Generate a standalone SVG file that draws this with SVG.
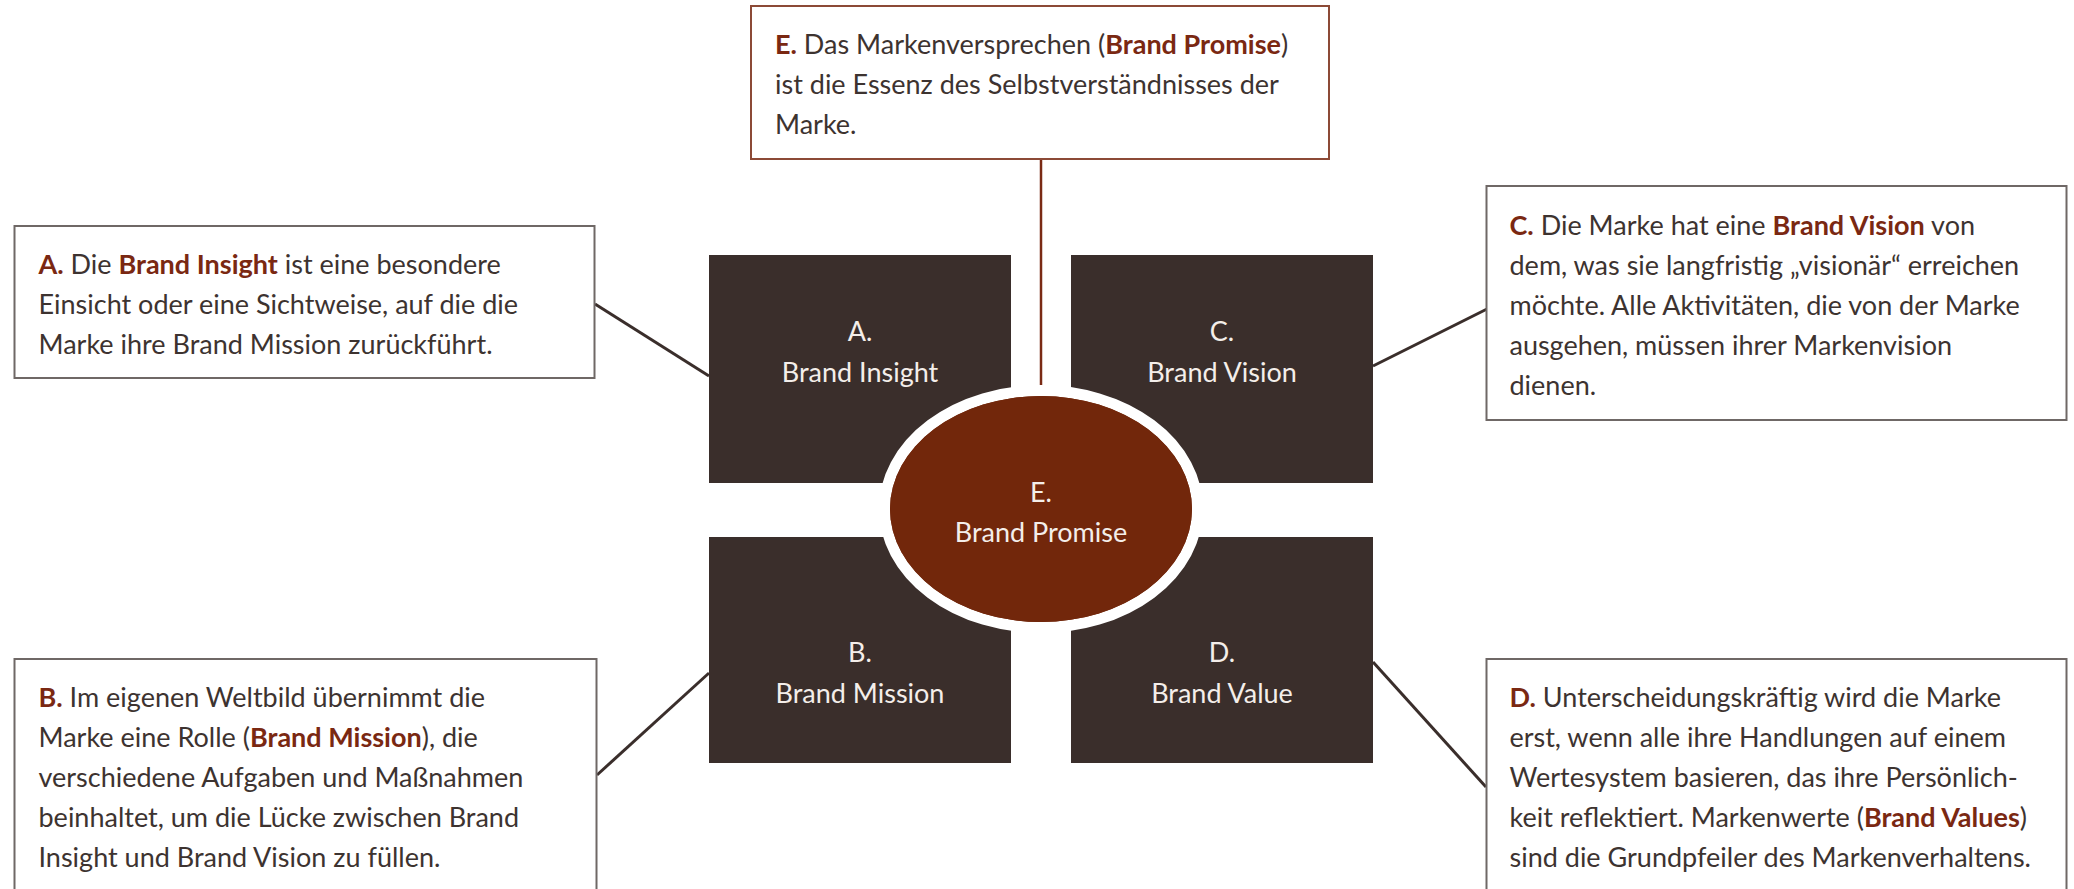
<svg xmlns="http://www.w3.org/2000/svg" width="2074" height="889" viewBox="0 0 2074 889">
  <style>
    .box { fill: #ffffff; stroke: #6f6866; stroke-width: 2; }
    .boxE { fill: #ffffff; stroke: #8c4a36; stroke-width: 2; }
    .sq { fill: #3a2e2b; }
    .desc { font-family: Lato, "Open Sans", sans-serif; font-size: 27px; fill: #3d3330; }
    .b { font-weight: bold; fill: #7a2812; }
    .lbl { font-family: Lato, "Open Sans", sans-serif; font-size: 27px; fill: #f4eeea; text-anchor: middle; }
    .con { stroke: #3a2e2b; stroke-width: 3; fill: none; }
    .conE { stroke: #7a2a14; stroke-width: 2.5; fill: none; }
  </style>
  <rect width="2074" height="889" fill="#ffffff"/>

  <g id="connectors">
    <line class="conE" x1="1041" y1="159" x2="1041" y2="400"/>
    <line class="con" x1="595" y1="304" x2="709" y2="376"/>
    <line class="con" x1="1373" y1="366" x2="1487" y2="309"/>
    <line class="con" x1="709" y1="673" x2="597" y2="775"/>
    <line class="con" x1="1373" y1="662" x2="1486" y2="787"/>
  </g>

  <g id="square-A">
    <rect class="sq" x="709" y="255" width="302" height="228"/>
    <text class="lbl" x="860" y="341">A.</text>
    <text class="lbl" x="860" y="382">Brand Insight</text>
  </g>
  <g id="square-C">
    <rect class="sq" x="1071" y="255" width="302" height="228"/>
    <text class="lbl" x="1222" y="341">C.</text>
    <text class="lbl" x="1222" y="382">Brand Vision</text>
  </g>
  <g id="square-B">
    <rect class="sq" x="709" y="537" width="302" height="226"/>
    <text class="lbl" x="860" y="662">B.</text>
    <text class="lbl" x="860" y="703">Brand Mission</text>
  </g>
  <g id="square-D">
    <rect class="sq" x="1071" y="537" width="302" height="226"/>
    <text class="lbl" x="1222" y="662">D.</text>
    <text class="lbl" x="1222" y="703">Brand Value</text>
  </g>

  <g id="node-E">
    <ellipse cx="1041" cy="509" rx="151" ry="113" fill="#72270b" stroke="#ffffff" stroke-width="22" paint-order="stroke"/>
    <ellipse cx="1041" cy="509" rx="151" ry="113" fill="#72270b"/>
    <text class="lbl" x="1041" y="502">E.</text>
    <text class="lbl" x="1041" y="542">Brand Promise</text>
  </g>

  <g id="box-E">
    <rect class="boxE" x="751" y="6" width="578" height="153"/>
    <text class="desc" x="775" y="54"><tspan class="b">E.</tspan> Das Markenversprechen (<tspan class="b">Brand Promise</tspan>)</text>
    <text class="desc" x="775" y="94">ist die Essenz des Selbstverständnisses der</text>
    <text class="desc" x="775" y="134">Marke.</text>
  </g>

  <g id="box-A">
    <rect class="box" x="14.5" y="226" width="580" height="152"/>
    <text class="desc" x="38.5" y="274"><tspan class="b">A.</tspan> Die <tspan class="b">Brand Insight</tspan> ist eine besondere</text>
    <text class="desc" x="38.5" y="314">Einsicht oder eine Sichtweise, auf die die</text>
    <text class="desc" x="38.5" y="354">Marke ihre Brand Mission zurückführt.</text>
  </g>

  <g id="box-C">
    <rect class="box" x="1486.5" y="186" width="580" height="234"/>
    <text class="desc" x="1509.5" y="235"><tspan class="b">C.</tspan> Die Marke hat eine <tspan class="b">Brand Vision</tspan> von</text>
    <text class="desc" x="1509.5" y="275">dem, was sie langfristig „visionär“ erreichen</text>
    <text class="desc" x="1509.5" y="315">möchte. Alle Aktivitäten, die von der Marke</text>
    <text class="desc" x="1509.5" y="355">ausgehen, müssen ihrer Markenvision</text>
    <text class="desc" x="1509.5" y="395">dienen.</text>
  </g>

  <g id="box-B">
    <rect class="box" x="14.5" y="659" width="582" height="240"/>
    <text class="desc" x="38.5" y="707"><tspan class="b">B.</tspan> Im eigenen Weltbild übernimmt die</text>
    <text class="desc" x="38.5" y="747">Marke eine Rolle (<tspan class="b">Brand Mission</tspan>), die</text>
    <text class="desc" x="38.5" y="787">verschiedene Aufgaben und Maßnahmen</text>
    <text class="desc" x="38.5" y="827">beinhaltet, um die Lücke zwischen Brand</text>
    <text class="desc" x="38.5" y="867">Insight und Brand Vision zu füllen.</text>
  </g>

  <g id="box-D">
    <rect class="box" x="1486.5" y="659" width="580" height="240"/>
    <text class="desc" x="1509.5" y="707"><tspan class="b">D.</tspan> Unterscheidungskräftig wird die Marke</text>
    <text class="desc" x="1509.5" y="747">erst, wenn alle ihre Handlungen auf einem</text>
    <text class="desc" x="1509.5" y="787">Wertesystem basieren, das ihre Persönlich-</text>
    <text class="desc" x="1509.5" y="827">keit reflektiert. Markenwerte (<tspan class="b">Brand Values</tspan>)</text>
    <text class="desc" x="1509.5" y="867">sind die Grundpfeiler des Markenverhaltens.</text>
  </g>
</svg>
